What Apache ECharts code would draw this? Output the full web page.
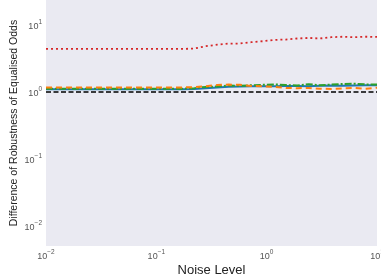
<!DOCTYPE html>
<html>
<head>
<meta charset="utf-8">
<script src="https://cdn.jsdelivr.net/npm/echarts@6/dist/echarts.min.js"></script>
<style>
  html, body { margin: 0; padding: 0; background: #fff; }
  #chart { width: 381px; height: 275px; }
</style>
</head>
<body>
<div id="chart"></div>
<script>
// noise levels (x)
const noise = [0.01, 0.0127, 0.0161, 0.0204, 0.0259, 0.0329, 0.0418, 0.053, 0.0672, 0.0853,
  0.108, 0.137, 0.174, 0.221, 0.28, 0.356, 0.452, 0.573, 0.727, 0.923,
  1.17, 1.49, 1.89, 2.4, 3.04, 3.86, 4.9, 6.21, 7.88, 10]

// series values
const blueVals = [1.10, 1.10, 1.10, 1.10, 1.10, 1.10, 1.10, 1.10, 1.10, 1.10,
  1.10, 1.10, 1.10, 1.11, 1.14, 1.17, 1.20, 1.21, 1.22, 1.22,
  1.22, 1.23, 1.23, 1.22, 1.24, 1.25, 1.24, 1.25, 1.26, 1.26]
const orangeVals = [1.17, 1.17, 1.17, 1.17, 1.17, 1.17, 1.17, 1.17, 1.17, 1.17,
  1.17, 1.17, 1.17, 1.18, 1.22, 1.27, 1.29, 1.28, 1.23, 1.22,
  1.19, 1.15, 1.14, 1.15, 1.12, 1.11, 1.13, 1.15, 1.12, 1.16]
const greenVals = [1.12, 1.12, 1.12, 1.12, 1.12, 1.12, 1.12, 1.12, 1.12, 1.12,
  1.12, 1.12, 1.12, 1.14, 1.19, 1.21, 1.25, 1.24, 1.26, 1.28,
  1.30, 1.27, 1.25, 1.31, 1.26, 1.29, 1.32, 1.33, 1.30, 1.30]
const redVals = [4.40, 4.40, 4.40, 4.40, 4.40, 4.40, 4.40, 4.40, 4.40, 4.40,
  4.40, 4.40, 4.40, 4.46, 4.83, 5.09, 5.30, 5.30, 5.55, 5.74,
  6.00, 6.08, 6.30, 6.43, 6.30, 6.59, 6.70, 6.59, 6.70, 6.65]
const baseX = [0.01, 10]
const baseVals = [1, 1]

const pair = (xs, ys) => xs.map((x, i) => [x, ys[i]])

// 10^n tick labels
const supLabel = (v) => {
    const lg = Math.log10(v)
    const e = Math.round(lg)
    if (Math.abs(lg - e) > 1e-6) return ''
    return '{b|10}{s|' + (e < 0 ? '\u2212' + (-e) : e) + '}'
}
const labelRich = {
    b: { fontSize: 9, color: '#555', fontFamily: 'Liberation Sans', lineHeight: 12, verticalAlign: 'bottom' },
    s: { fontSize: 6.5, color: '#555', fontFamily: 'Liberation Sans', lineHeight: 7, verticalAlign: 'top' }
}

var myChart = echarts.init(document.getElementById('chart'))

var option = {
    animation: false,
    grid: {
        left: 46,
        right: 4,
        top: 0,
        bottom: 29,
        outerBoundsMode: 'none',
        show: true,
        backgroundColor: '#EAEAF2',
        borderWidth: 0
    },
    xAxis: {
        type: 'log',
        logBase: 10,
        min: 0.01,
        max: 10,
        name: 'Noise Level',
        nameLocation: 'middle',
        nameGap: 18,
        nameMoveOverlap: false,
        nameTextStyle: { fontSize: 13, color: '#222', fontFamily: 'Liberation Sans' },
        axisLine: { show: false },
        axisTick: { show: false },
        splitLine: { show: false },
        axisLabel: { formatter: supLabel, rich: labelRich, margin: 3 }
    },
    yAxis: {
        type: 'log',
        logBase: 10,
        min: 0.005,
        max: 23.7,
        name: 'Difference of Robustness of Equalised Odds',
        nameLocation: 'middle',
        nameGap: 26,
        nameMoveOverlap: false,
        nameTextStyle: { fontSize: 10.5, color: '#222', fontFamily: 'Liberation Sans' },
        axisLine: { show: false },
        axisTick: { show: false },
        splitLine: { show: false },
        axisLabel: { formatter: supLabel, rich: labelRich, margin: 4 }
    },
    series: [
        {
            type: 'line', symbol: 'none', data: pair(noise, blueVals),
            lineStyle: { color: '#1f77b4', width: 2, type: 'solid' }
        },
        {
            type: 'line', symbol: 'none', data: pair(noise, greenVals),
            lineStyle: { color: '#2ca02c', width: 2, type: [7, 2, 2, 2] }
        },
        {
            type: 'line', symbol: 'none', data: pair(noise, orangeVals),
            lineStyle: { color: '#ff7f0e', width: 2, type: [6, 4] }
        },
        {
            type: 'line', symbol: 'none', data: pair(noise, redVals),
            lineStyle: { color: '#d62728', width: 1.8, type: [2, 3] }
        },
        {
            type: 'line', symbol: 'none', data: pair(baseX, baseVals),
            lineStyle: { color: '#000', width: 1.5, type: [5, 2.5] }
        }
    ]
}

myChart.setOption(option, true)
window.onresize = myChart.resize
</script>
</body>
</html>
